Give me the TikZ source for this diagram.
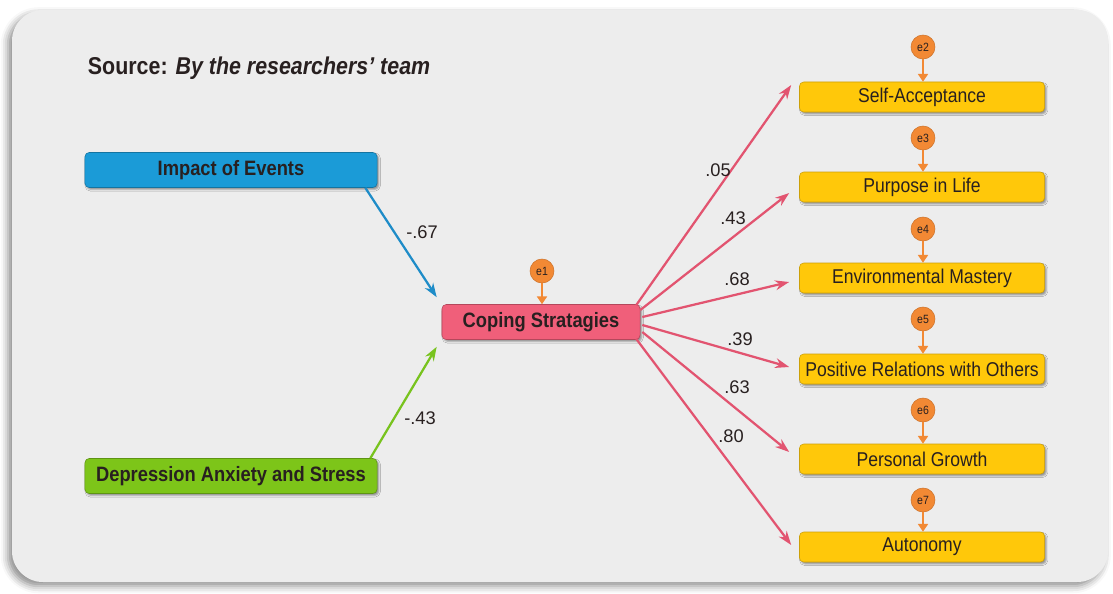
\documentclass[tikz,border=0pt]{standalone}
\usepackage{fontspec}
\setmainfont{Liberation Sans}[FakeStretch=0.88]
\newfontfamily\pathfont{Liberation Sans}
\usetikzlibrary{arrows.meta,calc,shadows.blur}
\definecolor{panelgray}{RGB}{237,237,237}
\definecolor{textdark}{RGB}{40,32,32}
\definecolor{eventblue}{RGB}{27,155,215}
\definecolor{stressgreen}{RGB}{125,197,25}
\definecolor{copingpink}{RGB}{240,95,122}
\definecolor{wellyellow}{RGB}{255,200,10}
\definecolor{errorange}{RGB}{242,137,52}
\definecolor{arrblue}{RGB}{30,140,200}
\definecolor{arrgreen}{RGB}{120,195,30}
\definecolor{arrpink}{RGB}{226,84,112}
\tikzset{
    pbox/.style={draw=#1!75!black, fill=#1, rounded corners=3pt,
                 minimum width=7.3cm, minimum height=0.875cm,
                 font=\fontsize{14.8}{16}\selectfont\bfseries, text=textdark,
                 blur shadow={shadow xshift=1.2pt, shadow yshift=-1.4pt,
                              shadow blur radius=1.2pt, shadow blur steps=3,
                              shadow opacity=40}},
    ybox/.style={draw=wellyellow!80!black, fill=wellyellow, rounded corners=3pt,
                 minimum width=6.125cm, minimum height=0.75cm,
                 font=\fontsize{14.2}{16}\selectfont, text=textdark,
                 blur shadow={shadow xshift=1.2pt, shadow yshift=-1.4pt,
                              shadow blur radius=1.2pt, shadow blur steps=3,
                              shadow opacity=40}},
    errc/.style={circle, fill=errorange, draw=errorange!85!black,
                 minimum size=0.6cm, inner sep=0pt,
                 font=\fontsize{8.5}{9}\selectfont, text=textdark},
    errarr/.style={draw=errorange, line width=1.5pt,
                   -{Triangle[length=5.5pt,width=7pt]}},
    patharr/.style={draw=#1, line width=1.6pt,
                    -{Stealth[length=10pt,width=7pt]}},
    coef/.style={font=\pathfont\fontsize{13}{15}\selectfont, text=textdark},
}
\begin{document}
\begin{tikzpicture}[x=0.025cm, y=-0.025cm]
    \useasboundingbox (0,0) rectangle (1113,593);
    % panel
    \fill[panelgray, rounded corners=22pt,
          blur shadow={shadow xshift=-3pt, shadow yshift=-3pt,
                       shadow blur radius=5pt, shadow opacity=45}]
        (12,10) rectangle (1108,582);
    \node[anchor=west, text=textdark, font=\fontsize{17.3}{20}\selectfont\bfseries]
        (src) at (83,68) {Source: \textit{By the researchers’ team}};

    % exogenous
    \node[pbox=eventblue] (ie) at (231,170) {Impact of Events};
    \node[pbox=stressgreen] (das) at (231,476) {Depression Anxiety and Stress};

    % mediator
    \node[pbox=copingpink, minimum width=4.95cm] (cs) at (541,322) {Coping Stratagies};
    \node[errc] (e1) at (542,271) {e1};
    \draw[errarr] (e1.south) -- (cs.north -| e1);

    % outcomes
    \node[ybox] (sa)  at (922,97)  {Self-Acceptance};
    \node[ybox] (pil) at (922,187) {Purpose in Life};
    \node[ybox] (em)  at (922,278) {Environmental Mastery};
    \node[ybox] (pro) at (922,369) {Positive Relations with Others};
    \node[ybox] (pg)  at (922,459) {Personal Growth};
    \node[ybox] (aut) at (922,547) {Autonomy};

    \node[errc] (e2) at (923,47)  {e2};
    \node[errc] (e3) at (923,138) {e3};
    \node[errc] (e4) at (923,229) {e4};
    \node[errc] (e5) at (923,319) {e5};
    \node[errc] (e6) at (923,410) {e6};
    \node[errc] (e7) at (923,500) {e7};
    \draw[errarr] (e2.south) -- (sa.north -| e2);
    \draw[errarr] (e3.south) -- (pil.north -| e3);
    \draw[errarr] (e4.south) -- (em.north -| e4);
    \draw[errarr] (e5.south) -- (pro.north -| e5);
    \draw[errarr] (e6.south) -- (pg.north -| e6);
    \draw[errarr] (e7.south) -- (aut.north -| e7);

    % paths
    \draw[patharr=arrblue]
        ($(ie.south east)+(-12,0)$) -- ($(cs.north west)+(-5,-7)$);
    \draw[patharr=arrgreen]
        ($(das.north east)+(-7,0)$) -- ($(cs.south west)+(-5,7)$);
    \node[coef] (b1) at (422,232) {-.67};
    \node[coef] (b2) at (420,418) {-.43};

    \draw[patharr=arrpink] ($(cs.east)+(-4,-17)$) -- ($(sa.west)+(-8,-12)$);
    \draw[patharr=arrpink] ($(cs.east)+(0,-12)$) -- ($(pil.west)+(-10,6)$);
    \draw[patharr=arrpink] ($(cs.east)+(2,-5)$) -- ($(em.west)+(-10,4)$);
    \draw[patharr=arrpink] ($(cs.east)+(2,3)$) -- ($(pro.west)+(-10,-2)$);
    \draw[patharr=arrpink] ($(cs.east)+(2,10)$) -- ($(pg.west)+(-10,-7)$);
    \draw[patharr=arrpink] ($(cs.east)+(-4,17)$) -- ($(aut.west)+(-8,-2)$);
    \node[coef] (g1) at (718,170) {.05};
    \node[coef] (g2) at (733,218) {.43};
    \node[coef] (g3) at (737,279) {.68};
    \node[coef] (g4) at (740,339) {.39};
    \node[coef] (g5) at (737,387) {.63};
    \node[coef] (g6) at (731,436) {.80};
\end{tikzpicture}
\end{document}
